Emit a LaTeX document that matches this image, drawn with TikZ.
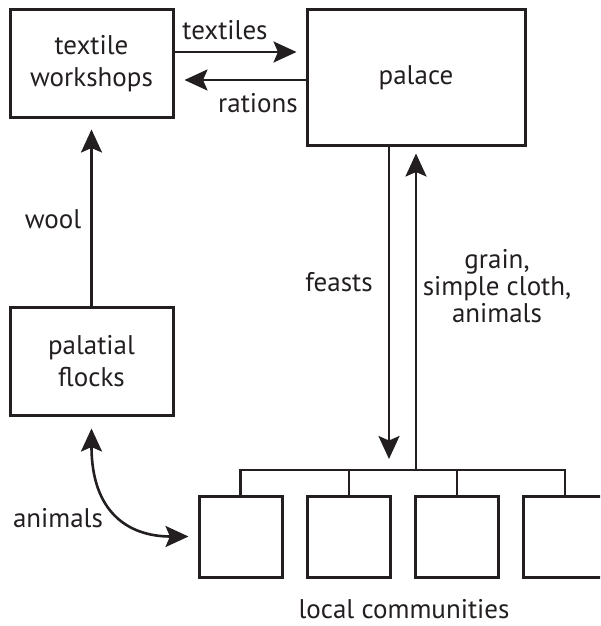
\documentclass[tikz,border=0pt]{standalone}
\usepackage{fontspec}
\setmainfont{PT Sans}
\usetikzlibrary{arrows.meta}
\definecolor{ink}{RGB}{35,31,32}
\begin{document}
\begin{tikzpicture}[x=1pt,y=-1pt,
  box/.style={draw=ink, line width=3pt, inner sep=0pt, align=center,
    text=ink, font=\fontsize{27}{32}\selectfont},
  commbox/.style={draw=ink, line width=3pt, minimum width=83pt, minimum height=81pt},
  flow/.style={draw=ink, line width=2.6pt,
    -{Stealth[length=23pt,width=21pt,inset=4.5pt]}},
  bothflow/.style={draw=ink, line width=2.6pt,
    {Stealth[length=23pt,width=21pt,inset=4.5pt]}-{Stealth[length=23pt,width=21pt,inset=4.5pt]}},
  tree/.style={draw=ink, line width=2.6pt},
  lbl/.style={text=ink, align=center, inner sep=0pt,
    font=\fontsize{27}{27}\selectfont}]
\useasboundingbox (0,0) rectangle (600,626);
\clip (0,0) rectangle (600,626);

% main boxes
\node[box, minimum width=163pt, minimum height=107pt] (tw) at (91.5,63.5) {textile\\workshops};
\node[box, minimum width=218pt, minimum height=135pt] (palace) at (416,77.5) {palace};
\node[box, minimum width=163pt, minimum height=108pt] (pf) at (91.5,361) {palatial\\flocks};

% local communities
\node[commbox] (c1) at (240.5,536.5) {};
\node[commbox] (c2) at (349,536.5) {};
\node[commbox] (c3) at (457,536.5) {};
\node[commbox] (c4) at (565,536.5) {};
\coordinate (bus) at (416,470);

\draw[tree] (c1.north) -- (c1.north |- bus) -- (c4.north |- bus) -- (c4.north);
\draw[tree] (c2.north) -- (c2.north |- bus);
\draw[tree] (c3.north) -- (c3.north |- bus);

% flows
\draw[flow, shorten >=9pt] ([yshift=11.5pt]tw.east) -- ([yshift=25.5pt]palace.west);
\draw[flow, shorten >=10pt] ([yshift=-2.5pt]palace.west) -- ([yshift=-16.5pt]tw.east);
\draw[flow, shorten >=11pt] (pf.north) -- (tw.south);
\draw[flow, shorten >=11pt] ([xshift=-27pt]palace.south) -- ([xshift=-27pt]bus);
\draw[flow, shorten >=7pt] (bus) -- (palace.south);
\draw[bothflow, shorten <=12pt, shorten >=9pt] (pf.south) .. controls +(0,95) and +(-70,0) .. (c1.west);

% labels
\node[lbl] (ltex) at (225,30) {textiles};
\node[lbl] (lrat) at (258,103) {rations};
\node[lbl] (lwool) at (53,219) {wool};
\node[lbl] (lfeast) at (339,282) {feasts};
\node[lbl] (lgrain) at (497,286) {grain,\\simple cloth,\\animals};
\node[lbl] (lanim) at (58,518) {animals};
\node[lbl, anchor=base] (lloc) at (404,618) {local communities};
\end{tikzpicture}
\end{document}
